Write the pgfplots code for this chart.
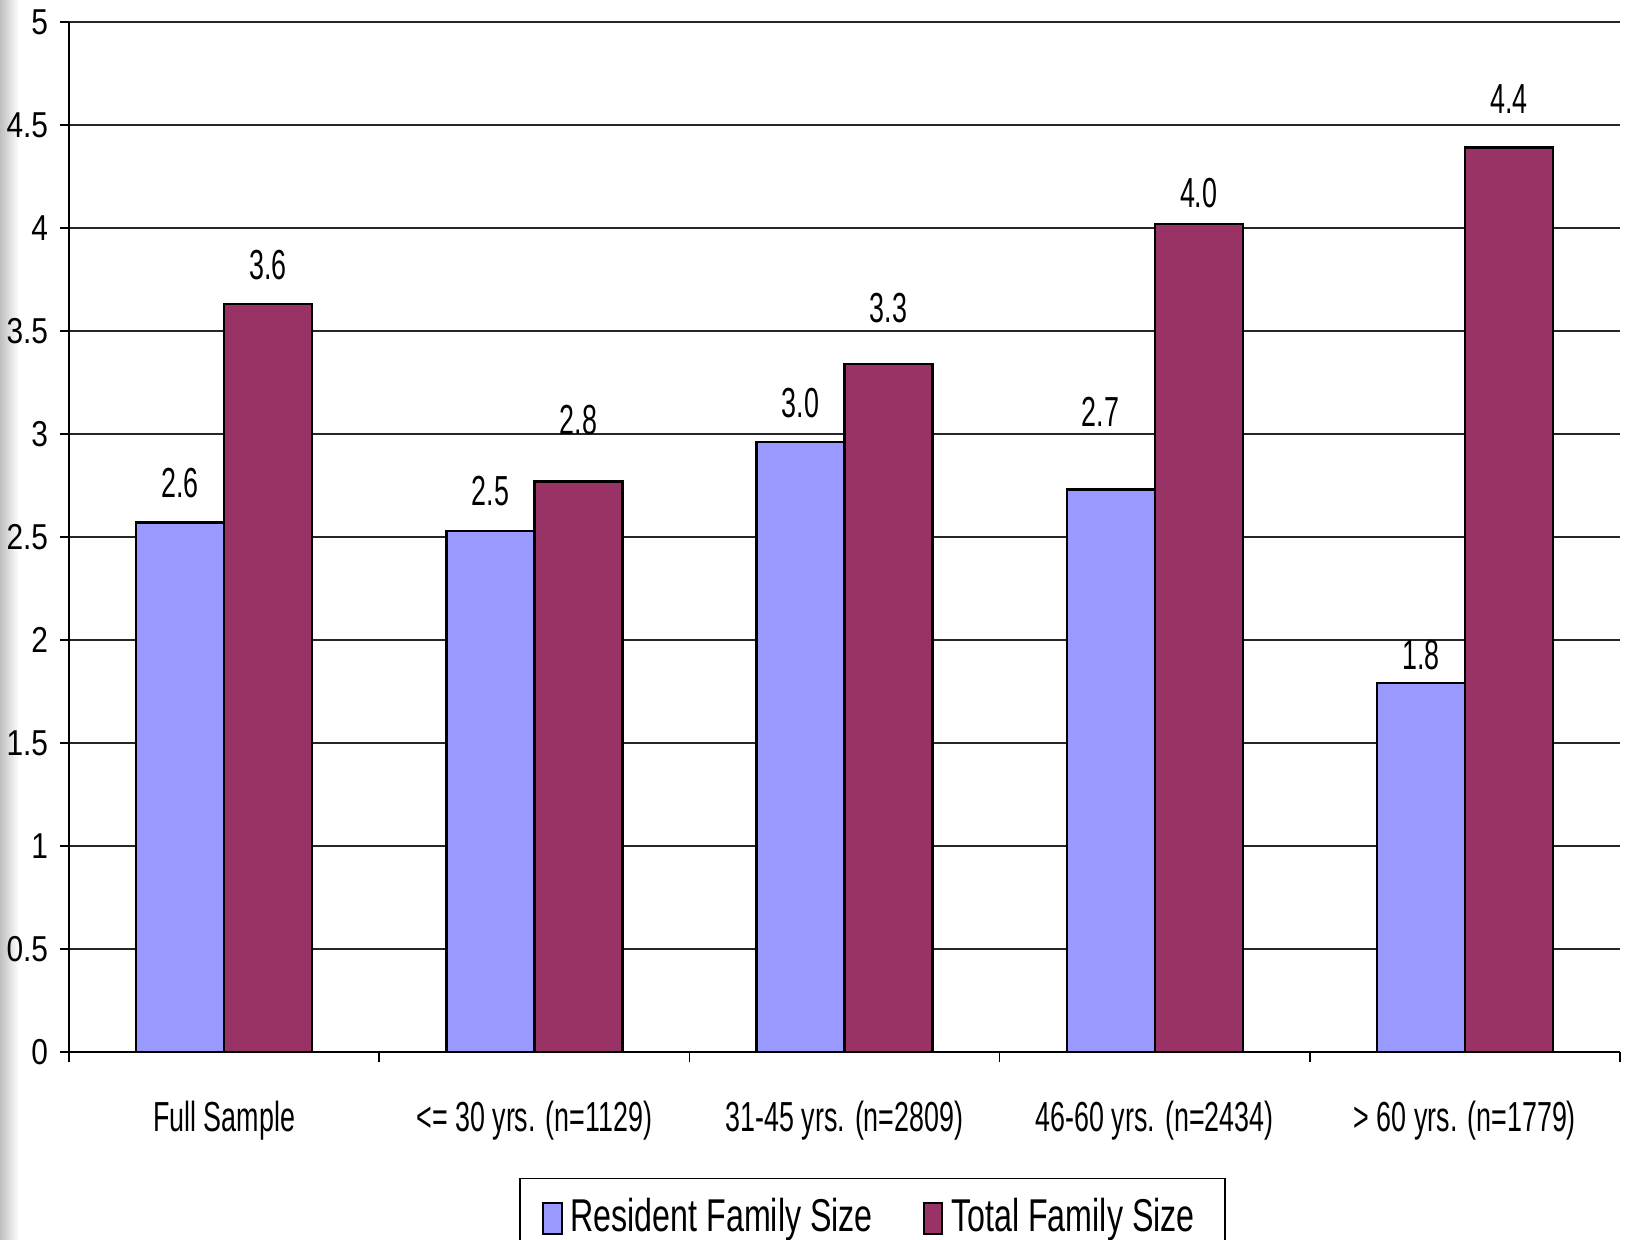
\documentclass[border=0pt]{standalone}
\usepackage{fontspec}
\setmainfont{Liberation Sans}
\newfontfamily\narrow{Liberation Sans}[FakeStretch=0.64]
\newfontfamily\legendfont{Liberation Sans}[FakeStretch=0.7]
\newfontfamily\ytickfont{Liberation Sans}[FakeStretch=0.83]
\usepackage{pgfplots}
\usepackage{pgfplotstable}
\pgfplotsset{compat=1.18}
\definecolor{resident}{HTML}{9999FF}
\definecolor{total}{HTML}{993366}

% value, plus extra lift and side shift of the value label (pt)
\pgfplotstableread{
x  y     lift  side
0  2.57  0     0
1  2.53  0     0
2  2.96  0     0
3  2.73  9.6   -2.6
4  1.79  -2.9  0
}\resident
\pgfplotstableread{
x  y     lift  side
0  3.63  0     0
1  2.77  5.4   0
2  3.34  4.2   0
3  4.02  -2.1  0
4  4.39  2.3   0
}\total

\begin{document}
\begin{tikzpicture}
% soft grey edge at the left of the slide
\shade[left color=black!25, right color=white] (-17.25pt,-47pt) rectangle (-12.5pt,263pt);
\begin{axis}[
  at={(0,0)}, anchor=south west,
  width=387.75pt, height=257.5pt, scale only axis,
  ymin=0, ymax=5, ytick={0,0.5,...,5},
  xmin=-0.5, xmax=4.5,
  xtick={0,1,2,3,4},
  xticklabels={Full Sample, {<= 30 yrs. (n=1129)}, {31-45 yrs. (n=2809)}, {46-60 yrs. (n=2434)}, {> 60 yrs. (n=1779)}},
  minor xtick={-0.5,0.5,...,4.5},
  major x tick style={draw=none},
  minor tick length=2.6pt,
  major tick length=2.3pt,
  tick align=outside,
  axis x line*=bottom, axis y line*=left,
  axis line style={black, line width=0.5pt, -},
  tick style={black, line width=0.4pt},
  ymajorgrids, grid style={black!85, line width=0.35pt},
  /pgf/number format/assume math mode=true,
  yticklabel style={font=\ytickfont\fontsize{9}{10}\selectfont, anchor=east, xshift=0.6pt},
  xticklabel style={font=\narrow\fontsize{10.5}{12}\selectfont, yshift=-6.5pt},
  ybar=0pt, bar width=22pt,
  nodes near coords,
  visualization depends on={\thisrow{lift} \as \lift},
  visualization depends on={\thisrow{side} \as \side},
  nodes near coords style={font=\narrow\fontsize{10.5}{12}\selectfont, yshift=2.5pt+\lift pt, xshift=\side pt},
  /pgf/number format/.cd, fixed, fixed zerofill, precision=1, /pgfplots/.cd,
  yticklabel={\pgfmathprintnumber[fixed, fixed zerofill=false, precision=2]{\tick}},
  legend columns=2,
  legend style={at={(0.518,-0.122)}, anchor=north, draw=black, line width=0.4pt,
    font=\legendfont\fontsize{11.5}{13}\selectfont, inner xsep=5.5pt, inner ysep=3pt,
    /tikz/every even column/.append style={column sep=10.5pt}},
  legend image code/.code={\draw[#1, draw=black, line width=0.5pt] (0pt,-3.9pt) rectangle (4.6pt,3.9pt);},
]
\addplot[fill=resident, draw=black, line width=0.6pt] table[x=x, y=y] {\resident};
\addplot[fill=total, draw=black, line width=0.6pt] table[x=x, y=y] {\total};
\legend{Resident Family Size, Total Family Size}
\end{axis}
\pgfresetboundingbox
\path[use as bounding box] (-17.25pt,-47pt) rectangle (389.75pt,263pt);
\end{tikzpicture}
\end{document}
